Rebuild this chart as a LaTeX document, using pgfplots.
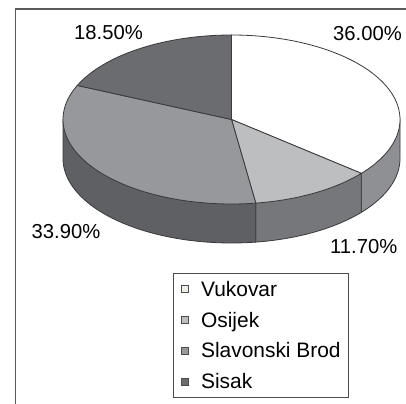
\documentclass[border=0pt]{standalone}
\usepackage{fontspec}
\setmainfont{Liberation Sans}
\usepackage{pgfplots}
\pgfplotsset{compat=1.18}
\definecolor{edge}{HTML}{3A3A3C}
\definecolor{tVuk}{HTML}{FFFFFF}
\definecolor{tOsi}{HTML}{BDBEC0}
\definecolor{tSla}{HTML}{97989B}
\definecolor{tSis}{HTML}{6B6C6F}
\definecolor{wVuk}{HTML}{8F9093}
\definecolor{wOsi}{HTML}{76777A}
\definecolor{wSla}{HTML}{5F6063}
\definecolor{lVuk}{HTML}{F0EDE6}
\definecolor{frame}{HTML}{5A5A5A}
\begin{document}
\begin{tikzpicture}
% data (percent)
\def\vVuk{36.00}\def\vOsi{11.70}\def\vSla{33.90}\def\vSis{18.50}
% geometry (1 unit = 1bp)
\def\cx{231.5}\def\cy{284.5}\def\rx{168.5}\def\ry{84.5}\def\dep{39}
\pgfmathsetmacro\aA{90}
\pgfmathsetmacro\aB{\aA-3.6*\vVuk}
\pgfmathsetmacro\aC{\aB-3.6*\vOsi}
\pgfmathsetmacro\aD{\aC-3.6*\vSla}
\pgfmathsetmacro\aE{\aA-360}
\pgfmathsetmacro\xB{\cx+\rx*cos(\aB)}\pgfmathsetmacro\yB{\cy+\ry*sin(\aB)}
\pgfmathsetmacro\xC{\cx+\rx*cos(\aC)}\pgfmathsetmacro\yC{\cy+\ry*sin(\aC)}
\pgfmathsetmacro\xR{\cx+\rx}\pgfmathsetmacro\xL{\cx-\rx}
\begin{axis}[width=406bp, height=404bp, scale only axis,
  xmin=0, xmax=406, ymin=0, ymax=404, hide axis, clip=false,
  every axis plot/.append style={forget plot},
  legend image code/.code={\draw[#1,draw=black!70,line width=0.7bp] (0bp,-3.5bp) rectangle (7bp,3.5bp);},
  legend style={at={(axis cs:173,131)}, anchor=north west, draw=black!70, line width=0.8bp,
    fill=white, font=\fontsize{21}{25}\selectfont, inner xsep=7.5bp, inner ysep=4bp,
    row sep=7.3bp, column sep=12.5bp,
    nodes={inner xsep=0bp, inner ysep=0bp, text height=19bp, text depth=4.5bp}},
  legend cell align=left]
% frame
\draw[frame, line width=1.7bp] (axis cs:15.5,0) -- (axis cs:15.5,395) -- (axis cs:406,395);
% walls
\addplot[fill=wVuk, draw=edge, line width=0.8bp, domain=\aB:0, samples=40, variable=\t]
  ({\cx+\rx*cos(\t)}, {\cy-\dep+\ry*sin(\t)}) -- (axis cs:\xR,\cy) -- (axis cs:\xB,\yB) -- cycle;
\addplot[fill=wOsi, draw=edge, line width=0.8bp, domain=\aC:\aB, samples=30, variable=\t]
  ({\cx+\rx*cos(\t)}, {\cy-\dep+\ry*sin(\t)}) -- (axis cs:\xB,\yB) -- (axis cs:\xC,\yC) -- cycle;
\addplot[fill=wSla, draw=edge, line width=0.8bp, domain=-180:\aC, samples=60, variable=\t]
  ({\cx+\rx*cos(\t)}, {\cy-\dep+\ry*sin(\t)}) -- (axis cs:\xC,\yC) -- (axis cs:\xL,\cy) -- cycle;
% top
\addplot[fill=tVuk, draw=edge, line width=0.8bp, domain=\aB:\aA, samples=80, variable=\t]
  ({\cx+\rx*cos(\t)}, {\cy+\ry*sin(\t)}) -- (axis cs:\cx,\cy) -- cycle;
\addplot[fill=tOsi, draw=edge, line width=0.8bp, domain=\aC:\aB, samples=40, variable=\t]
  ({\cx+\rx*cos(\t)}, {\cy+\ry*sin(\t)}) -- (axis cs:\cx,\cy) -- cycle;
\addplot[fill=tSla, draw=edge, line width=0.8bp, domain=\aD:\aC, samples=80, variable=\t]
  ({\cx+\rx*cos(\t)}, {\cy+\ry*sin(\t)}) -- (axis cs:\cx,\cy) -- cycle;
\addplot[fill=tSis, draw=edge, line width=0.8bp, domain=\aE:\aD, samples=60, variable=\t]
  ({\cx+\rx*cos(\t)}, {\cy+\ry*sin(\t)}) -- (axis cs:\cx,\cy) -- cycle;
% labels
\node[anchor=base west, inner sep=0pt, font=\fontsize{20.3}{24}\selectfont] at (axis cs:74,364.7) {18.50\%};
\node[anchor=base west, inner sep=0pt, font=\fontsize{20.3}{24}\selectfont] at (axis cs:333,363.5) {36.00\%};
\node[anchor=base west, inner sep=0pt, font=\fontsize{20.3}{24}\selectfont] at (axis cs:31.5,165.7) {33.90\%};
\node[anchor=base west, inner sep=0pt, font=\fontsize{20.3}{24}\selectfont] at (axis cs:330,150.7) {11.70\%};
% legend
\addlegendimage{fill=lVuk}\addlegendentry{Vukovar}
\addlegendimage{fill=tOsi}\addlegendentry{Osijek}
\addlegendimage{fill=tSla}\addlegendentry{Slavonski Brod}
\addlegendimage{fill=tSis}\addlegendentry{Sisak}
\end{axis}
\pgfresetboundingbox
\useasboundingbox (current axis.south west) rectangle (current axis.north east);
\end{tikzpicture}
\end{document}
